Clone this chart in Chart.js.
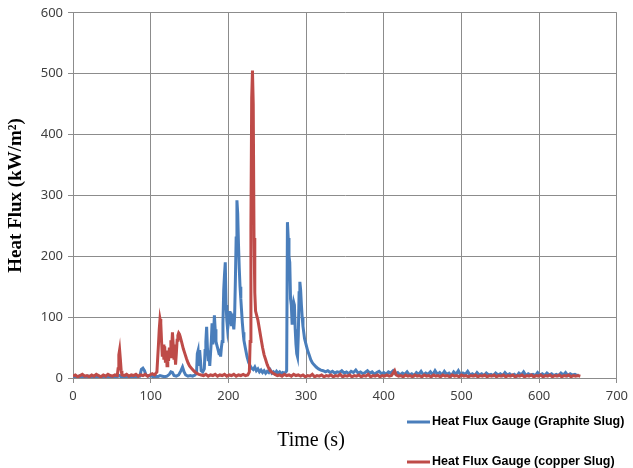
<!DOCTYPE html>
<html><head><meta charset="utf-8">
<script src="https://cdn.jsdelivr.net/npm/chart.js@4"></script>
<style>html,body{margin:0;padding:0;background:#fff;} #wrap{width:633px;height:468px;position:relative;}</style>
</head><body><div id="wrap"><canvas id="c" width="633" height="468"></canvas></div>
<script>
const seriesNames = ['Heat Flux Gauge (Graphite Slug)', 'Heat Flux Gauge (copper Slug)'];
const seriesColors = ['#4a7ebb', '#be4b48'];
const xTickValues = [0, 100, 200, 300, 400, 500, 600, 700];
const yTickValues = [0, 100, 200, 300, 400, 500, 600];
const xAxisTitle = 'Time (s)';
const yAxisTitle = 'Heat Flux (kW/m\u00B2)';

// [time (s), heat flux (kW/m2)]
const graphiteSamples = [
 [0,2],[4,1],[8,3],[12,2],[16,1],[20,3],[24,2],[28,1],[32,3],[36,2],[40,1],[44,2],[48,3],[52,1],[56,2],[60,4],[62,2],[66,1],[70,3],[74,2],[78,1],[82,2],[86,3],
 [88,14],[90,16],[92,12],[94,5],[97,3],[100,4],[103,2],[106,3],[109,2],[112,4],[115,3],[118,2],[121,3],[124,6],[126,10],[128,9],[130,4],[133,3],[136,5],[139,12],[141,18],[143,10],[145,5],[148,3],[151,4],[154,3],[157,5],[159,8],
 [160,40],[161,45],[162,20],[163,46],[164,30],[165,12],[167,10],[169,15],[170,45],[171,60],[172,84],[173,50],[174,30],[175,45],[176,20],[177,40],[178,60],[179,90],[180,55],[181,75],[182,103],[183,80],[184,60],[185,55],[186,50],[187,45],[188,40],[189,48],[190,35],[191,50],[192,60],[193,90],[194,145],[195,170],[196,190],[197,120],[198,95],[199,80],[200,90],[201,110],[202,95],[203,108],[204,85],[205,106],[206,90],[207,80],[208,100],[209,160],[210,230],[211,292],[212,270],[213,220],[214,180],[215,150],[216,130],[217,110],[218,90],[219,75],[220,62],[222,48],[224,35],[226,26],[228,20],[230,16],[232,14],[234,18],[236,12],[238,15],[240,10],[242,13],[244,9],[246,12],[248,8],[250,11],[252,9],[254,13],[256,8],[258,10],[260,7],[262,11],[264,8],[266,10],[268,7],[270,9],[272,8],[274,10],[275,12],
 [276,256],[277,230],[278,200],[279,190],[280,130],[281,120],[282,90],[283,115],[284,125],[285,120],[286,80],[287,55],[288,40],[289,35],[290,70],[291,140],[292,158],[293,145],[294,120],[295,100],[296,85],[297,75],[298,65],[300,55],[302,45],[304,38],[306,30],[308,25],[310,22],[313,18],[316,15],[319,13],[322,12],[325,10],[328,12],[331,9],[334,11],[337,8],[340,10],
 [343,9],[346,12],[349,8],[352,10],[355,7],[358,11],[361,9],[364,13],[367,8],[370,10],[373,7],[376,9],[379,12],[382,8],[385,10],[388,6],[391,9],[394,11],[397,7],[400,9],[403,6],[406,10],[409,8],[412,12],[415,7],[418,9],[421,5],[424,8],[427,6],[430,10],[433,5],[436,7],[439,4],[442,9],[445,6],[448,11],[451,5],[454,8],[457,6],[460,10],[463,5],[466,12],[469,6],[472,9],[475,5],[478,11],[481,6],[484,8],[487,4],[490,10],[493,6],[496,12],[499,5],[502,8],[505,6],[508,11],[511,5],[514,7],[517,4],[520,9],[523,5],[526,7],[529,4],[532,8],[535,5],[538,6],[541,4],[544,8],[547,5],[550,7],[553,4],[556,9],[559,5],[562,7],[565,4],[568,6],[571,3],[574,8],[577,5],[580,10],[583,4],[586,7],[589,5],[592,6],[595,4],[598,9],[601,5],[604,7],[607,4],[610,8],[613,5],[616,7],[619,4],[622,6],[625,4],[628,8],[631,5],[634,9],[637,4],[640,7],[643,5],[646,6],[649,4],[651,5]
];

const copperSamples = [
 [0,3],[3,5],[6,2],[9,4],[12,6],[15,3],[18,4],[21,2],[24,5],[27,3],[30,6],[33,4],[36,2],[39,5],[42,3],[45,6],[48,4],[51,3],[54,5],[57,4],
 [58,15],[59,38],[60,46],[61,30],[62,12],[63,5],[66,4],[69,6],[72,3],[75,5],[78,4],[81,6],[84,3],[87,5],[90,4],[93,6],[96,3],[99,5],[102,7],[105,5],[108,10],
 [110,55],[111,80],[112,97],[113,90],[114,60],[115,35],[116,55],[117,30],[118,52],[119,25],[120,45],[121,20],[122,38],[123,28],[124,50],[125,35],[126,62],[127,48],[128,75],[129,55],[130,30],[131,45],[132,22],[133,40],[134,62],[135,70],[136,74],[137,72],[138,68],[140,58],[142,48],[144,40],[146,32],[148,25],[150,20],[153,15],[156,11],[159,8],[162,6],[165,5],
 [168,4],[171,6],[174,3],[177,5],[180,4],[183,6],[186,3],[189,5],[192,4],[195,6],[198,3],[201,5],[204,4],[207,6],[210,3],[213,5],[216,4],[219,6],[222,4],[225,5],[227,10],
 [228,60],[229,250],[230,460],[231,505],[232,450],[233,230],[234,140],[235,110],[236,105],[238,95],[240,80],[242,65],[244,50],[246,38],[248,30],[250,22],[252,16],[254,12],[257,8],[260,6],[263,4],[266,5],[269,3],[272,6],[275,4],[278,5],[281,3],[284,6],[287,4],[290,5],[293,3],
 [296,5],[299,2],[302,4],[305,3],[308,6],[311,2],[314,4],[317,3],[320,5],[323,2],[326,4],[329,3],[332,5],[335,2],[338,4],[341,3],[344,6],[347,2],[350,4],[353,3],[356,5],[359,2],[362,4],[365,3],[368,5],[371,2],[374,4],[377,3],[380,6],[383,2],[386,4],[389,3],[392,5],[395,2],[398,4],[401,3],[404,5],[407,3],[410,4],[412,8],[414,12],[416,5],[419,3],
 [422,4],[425,2],[428,5],[431,3],[434,4],[437,2],[440,5],[443,3],[446,4],[449,2],[452,5],[455,3],[458,4],[461,2],[464,5],[467,3],[470,4],[473,2],[476,5],[479,3],[482,4],[485,2],[488,5],[491,3],[494,4],[497,2],[500,5],[503,3],[506,4],[509,2],[512,4],[515,3],[518,5],[521,2],[524,4],[527,3],[530,5],[533,2],[536,4],[539,3],[542,5],[545,2],[548,4],[551,3],[554,5],[557,2],[560,4],[563,3],[566,5],[569,2],[572,4],[575,3],[578,5],[581,2],[584,4],[587,3],[590,5],[593,2],[596,4],[599,3],[602,5],[605,2],[608,4],[611,3],[614,5],[617,2],[620,4],[623,3],[626,5],[629,2],[632,4],[635,3],[638,5],[641,2],[644,4],[647,3],[650,4],[653,3]
];

const toPoints = s => s.map(([x, y]) => ({x, y}));

const extrasPlugin = {
  id: 'extras',
  afterDraw(chart) {
    const ctx = chart.ctx;
    ctx.save();
    // x axis title
    ctx.fillStyle = '#000';
    ctx.font = '20px "Liberation Serif"';
    ctx.textAlign = 'center';
    ctx.textBaseline = 'middle';
    ctx.fillText(xAxisTitle, 311, 441);
    // legend
    const rows = [422, 462];
    chart.data.datasets.forEach((ds, i) => {
      const y = rows[i];
      ctx.strokeStyle = ds.borderColor;
      ctx.lineWidth = 3;
      ctx.beginPath();
      ctx.moveTo(407, y);
      ctx.lineTo(430, y);
      ctx.stroke();
      ctx.fillStyle = '#000';
      ctx.font = 'bold 12.5px "Liberation Sans"';
      ctx.textAlign = 'left';
      ctx.textBaseline = 'middle';
      ctx.fillText(ds.label, 432, y);
    });
    ctx.restore();
  }
};

new Chart(document.getElementById('c'), {
  type: 'line',
  data: {
    datasets: [
      { label: seriesNames[0], data: toPoints(graphiteSamples), borderColor: seriesColors[0], backgroundColor: seriesColors[0], borderWidth: 3, pointRadius: 0, tension: 0, order: 1 },
      { label: seriesNames[1], data: toPoints(copperSamples), borderColor: seriesColors[1], backgroundColor: seriesColors[1], borderWidth: 3, pointRadius: 0, tension: 0, order: 0 }
    ]
  },
  options: {
    responsive: false,
    animation: false,
    devicePixelRatio: 1,
    layout: { padding: { top: 12, right: 13, left: 0, bottom: 0 } },
    plugins: { legend: { display: false }, tooltip: { enabled: false } },
    scales: {
      x: {
        type: 'linear',
        min: xTickValues[0], max: xTickValues[xTickValues.length - 1],
        afterBuildTicks: s => { s.ticks = xTickValues.map(v => ({value: v})); },
        afterFit: s => { s.height = 90; },
        grid: { color: '#8c8c8c', tickColor: '#8c8c8c', tickLength: 5, lineWidth: 1 },
        border: { color: '#8c8c8c' },
        ticks: { color: '#404040', font: { family: 'Noto Sans', size: 13 }, padding: 5, maxRotation: 0 }
      },
      y: {
        min: yTickValues[0], max: yTickValues[yTickValues.length - 1],
        afterBuildTicks: s => { s.ticks = yTickValues.map(v => ({value: v})); },
        afterFit: s => { s.width = 73; },
        grid: { color: '#8c8c8c', tickColor: '#8c8c8c', tickLength: 5, lineWidth: 1 },
        border: { color: '#8c8c8c' },
        ticks: { color: '#404040', font: { family: 'Noto Sans', size: 13 }, padding: 5 },
        title: { display: true, text: yAxisTitle, color: '#000', font: { family: 'Liberation Serif', size: 19, weight: 'bold' }, padding: { top: 5, bottom: 0 } }
      }
    }
  },
  plugins: [extrasPlugin]
});
</script></body></html>
